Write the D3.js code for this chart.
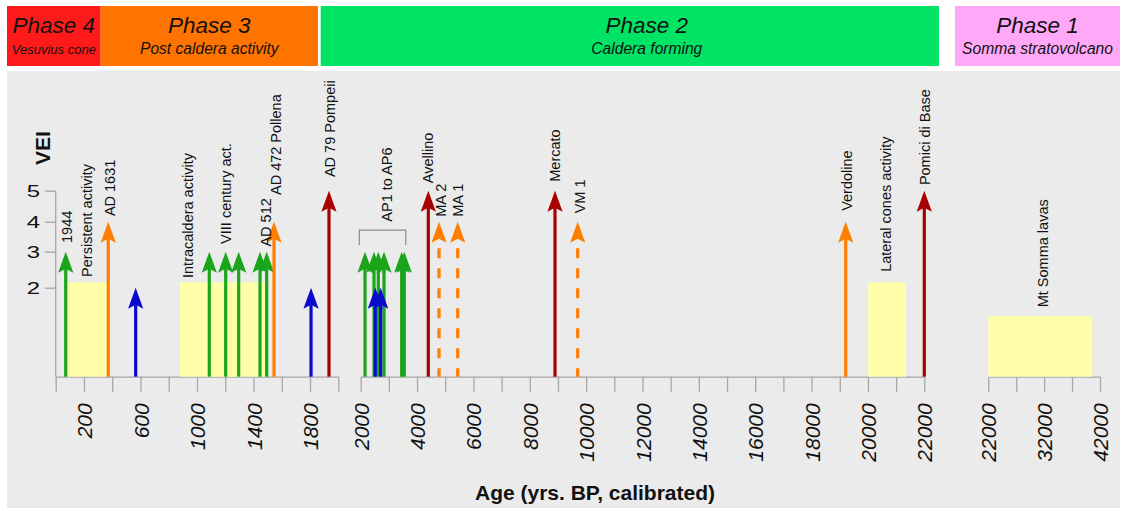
<!DOCTYPE html>
<html><head><meta charset="utf-8">
<script src="https://cdn.jsdelivr.net/npm/d3@7"></script>
<style>
html,body{margin:0;padding:0;background:#fff;}
svg{display:block;font-family:"Liberation Sans",Arial,Helvetica,sans-serif;}
</style></head><body>
<svg id="chart" width="1124" height="511"></svg>
<script>
// ---------------- data ----------------
const phaseTitles = ["Phase 4", "Phase 3", "Phase 2", "Phase 1"];
const phaseSubtitles = ["Vesuvius cone", "Post caldera activity", "Caldera forming", "Somma stratovolcano"];
const phaseColors = ["#ff1a1a", "#ff7300", "#00e364", "#ffa8f8"];

const seg1Ticks = [0, 200, 400, 600, 800, 1000, 1200, 1400, 1600, 1800, 2000];
const seg1Labels = [200, 600, 1000, 1400, 1800];
const seg2Ticks = [2000, 3000, 4000, 5000, 6000, 7000, 8000, 9000, 10000, 11000, 12000, 13000, 14000, 15000, 16000, 17000, 18000, 19000, 20000, 21000, 22000];
const seg2Labels = [2000, 4000, 6000, 8000, 10000, 12000, 14000, 16000, 18000, 20000, 22000];
const seg3Ticks = [22000, 27000, 32000, 37000, 42000];
const seg3Labels = [22000, 32000, 42000];
const veiTicks = [2, 3, 4, 5];

// eruptions (age in years BP, VEI, dashed = uncertain)
const arrowAge = [71, 372, 566, 1087, 1203, 1295, 1446, 1493, 1545, 1807, 1934,
                  2153, 2472, 2625, 2827, 3455, 3547, 2518, 2710,
                  4399, 4779, 5442, 8895, 9700, 19211, 22000];
const arrowVEI = [3, 4, 2, 3, 3, 3, 3, 3, 4, 2, 5,
                  3, 3, 3, 3, 3, 3, 2, 2,
                  5, 4, 4, 5, 4, 4, 5];
const arrowDashed = [false, false, false, false, false, false, false, false, false, false, false,
                     false, false, false, false, false, false, false, false,
                     false, true, true, false, true, false, false];

// periods of persistent activity (yellow boxes)
const boxStart = [78, 880, 20013, 22000];
const boxEnd = [365, 1486, 21351, 40620];
const boxLevel = [2.15, 2.15, 2.15, 1.36];
const boxSeg = [0, 0, 1, 2];

// AP1-AP6 group bracket
const bracketStart = 1950;
const bracketEnd = 3600;
const bracketLevel = 3.72;

// labels
const labelText = ["1944", "Persistent activity", "AD 1631", "Intracaldera activity", "VIII century act.",
                   "AD 512", "AD 472 Pollena", "AD 79 Pompeii", "AP1 to AP6", "Avellino", "MA 2", "MA 1",
                   "Mercato", "VM 1", "Verdoline", "Lateral cones activity", "Pomici di Base", "Mt Somma lavas"];
const labelAge = [78, 221, 384, 938, 1205, 1488, 1559, 1941, 2923, 4363, 4839, 5428,
                  8895, 9757, 19246, 20641, 22000, 31830];
const labelLevel = [3.29, 2.30, 4.18, 2.27, 3.26, 3.17, 4.86, 5.44, 4.0, 5.24, 4.16, 4.16,
                    5.29, 4.27, 4.35, 2.44, 5.18, 1.56];
const labelSeg = [0, 0, 0, 0, 0, 0, 0, 0, 1, 1, 1, 1, 1, 1, 1, 1, 1, 2];

const veiColors = {2: "#0a0acc", 3: "#1aa51a", 4: "#ff7d00", 5: "#a80000"};

// ---------------- layout ----------------
const L = {
  phaseX: [[7, 100.7], [100.7, 318], [320.7, 939], [955, 1120]],
  phaseY: [6, 66],
  panel: {x: 7, y: 71, w: 1113, h: 437},
  segRanges: [[55.7, 338.3], [360.7, 924.3], [988.3, 1100]],
  yRange: [376.7, 287.7, 251.7, 221.7, 190.7],
  baseY: 376.7
};

const svg = d3.select("#chart");

// header
phaseTitles.forEach((t, i) => {
  const [x0, x1] = L.phaseX[i];
  svg.append("rect").attr("x", x0).attr("y", L.phaseY[0]).attr("width", x1 - x0)
     .attr("height", L.phaseY[1] - L.phaseY[0]).attr("fill", phaseColors[i]);
  const cx = (x0 + x1) / 2 + (i === 2 ? 17 : 0);
  svg.append("text").attr("x", cx).attr("y", 33).attr("text-anchor", "middle")
     .attr("font-size", 22.5).attr("font-style", "italic").attr("fill", "#111").text(t);
  svg.append("text").attr("x", cx).attr("y", 54).attr("text-anchor", "middle")
     .attr("font-size", i === 0 ? 13 : 15.6).attr("font-style", "italic").attr("fill", "#111").text(phaseSubtitles[i]);
});

// panel
svg.append("rect").attr("x", L.panel.x).attr("y", L.panel.y).attr("width", L.panel.w)
   .attr("height", L.panel.h).attr("fill", "#ebebeb");

// scales
const xs = [
  d3.scaleLinear().domain([0, 2000]).range(L.segRanges[0]),
  d3.scaleLinear().domain([2000, 22000]).range(L.segRanges[1]),
  d3.scaleLinear().domain([22000, 42000]).range(L.segRanges[2])
];
const y = d3.scaleLinear().domain([0, 2, 3, 4, 5]).range(L.yRange);
const segOf = a => a < 2000 ? 0 : (a <= 22000 ? 1 : 2);

const axisColor = "#a6a6a6";

// x axes
const tickSets = [[seg1Ticks, seg1Labels], [seg2Ticks, seg2Labels], [seg3Ticks, seg3Labels]];
tickSets.forEach(([ticks, labels], i) => {
  const g = svg.append("g").attr("transform", `translate(0,${L.baseY})`)
    .call(d3.axisBottom(xs[i]).tickValues(ticks).tickSizeInner(15).tickSizeOuter(0)
      .tickFormat(d => labels.includes(d) ? String(d) : ""));
  g.select(".domain").attr("stroke", axisColor).attr("stroke-width", 1.3);
  g.selectAll(".tick line").attr("stroke", axisColor).attr("stroke-width", 1.3);
  g.selectAll(".tick text")
    .attr("transform", "rotate(-90)")
    .attr("x", -26.6).attr("y", 0).attr("dy", "0.36em")
    .attr("text-anchor", "end")
    .attr("font-size", 21).attr("font-style", "italic")
    .attr("font-family", '"Liberation Sans",Arial,sans-serif')
    .attr("fill", "#111");
});

// y axis
const gy = svg.append("g").attr("transform", `translate(${L.segRanges[0][0]},0)`)
  .call(d3.axisLeft(y).tickValues(veiTicks).tickSizeInner(10.7).tickSizeOuter(0).tickFormat(""));
gy.select(".domain").attr("stroke", axisColor).attr("stroke-width", 1.3)
  .attr("d", `M0,${y(5)}V${L.baseY}`);
gy.selectAll(".tick line").attr("stroke", axisColor).attr("stroke-width", 1.3);
veiTicks.forEach(v => {
  svg.append("text")
    .attr("transform", `translate(33.3,${y(v)}) scale(1.45,1)`)
    .attr("text-anchor", "middle").attr("dy", "0.36em")
    .attr("font-size", 16.5).attr("fill", "#111").text(v);
});

// axis titles
svg.append("text").attr("transform", "translate(42,148) rotate(-90)")
   .attr("text-anchor", "middle").attr("dy", "0.36em")
   .attr("font-size", 21).attr("font-weight", "bold").attr("fill", "#111").text("VEI");
svg.append("text").attr("x", 595).attr("y", 500).attr("text-anchor", "middle")
   .attr("font-size", 21).attr("font-weight", "bold").attr("fill", "#111")
   .text("Age (yrs. BP, calibrated)");

// boxes
boxStart.forEach((s, i) => {
  const sc = xs[boxSeg[i]];
  svg.append("rect").attr("x", sc(s)).attr("y", y(boxLevel[i]))
     .attr("width", sc(boxEnd[i]) - sc(s)).attr("height", L.baseY - y(boxLevel[i]))
     .attr("fill", "#ffffaa");
});

// bracket
{
  const sc = xs[1];
  const x0 = sc(bracketStart), x1 = sc(bracketEnd), yt = y(bracketLevel);
  svg.append("path").attr("d", `M${x0},${yt + 15}V${yt}H${x1}V${yt + 15}`)
     .attr("fill", "none").attr("stroke", "#8c8c8c").attr("stroke-width", 1.2);
}

// arrows
const headLen = 21, headHalf = 7.6, notch = 4;
arrowAge.forEach((a, i) => {
  const sc = xs[segOf(a)];
  const x = sc(a), tip = y(arrowVEI[i]);
  const col = veiColors[arrowVEI[i]];
  if (arrowDashed[i]) {
    svg.append("line").attr("x1", x).attr("x2", x).attr("y1", tip + 26.6).attr("y2", L.baseY)
       .attr("stroke", col).attr("stroke-width", 3.2).attr("stroke-dasharray", "10,10");
  } else {
    svg.append("line").attr("x1", x).attr("x2", x).attr("y1", tip + headLen - notch).attr("y2", L.baseY)
       .attr("stroke", col).attr("stroke-width", 3.2);
  }
  svg.append("path")
     .attr("d", `M0,0L${headHalf},${headLen}L0,${headLen - notch}L${-headHalf},${headLen}Z`)
     .attr("transform", `translate(${x},${tip})`).attr("fill", col);
});

// labels
labelText.forEach((t, i) => {
  const x = xs[labelSeg[i]](labelAge[i]);
  const yb = y(labelLevel[i]);
  svg.append("text").attr("transform", `translate(${x},${yb}) rotate(-90)`)
     .attr("dy", "0.36em").attr("text-anchor", "start")
     .attr("font-size", 14.5).attr("fill", "#111").text(t);
});
</script>
</body></html>
